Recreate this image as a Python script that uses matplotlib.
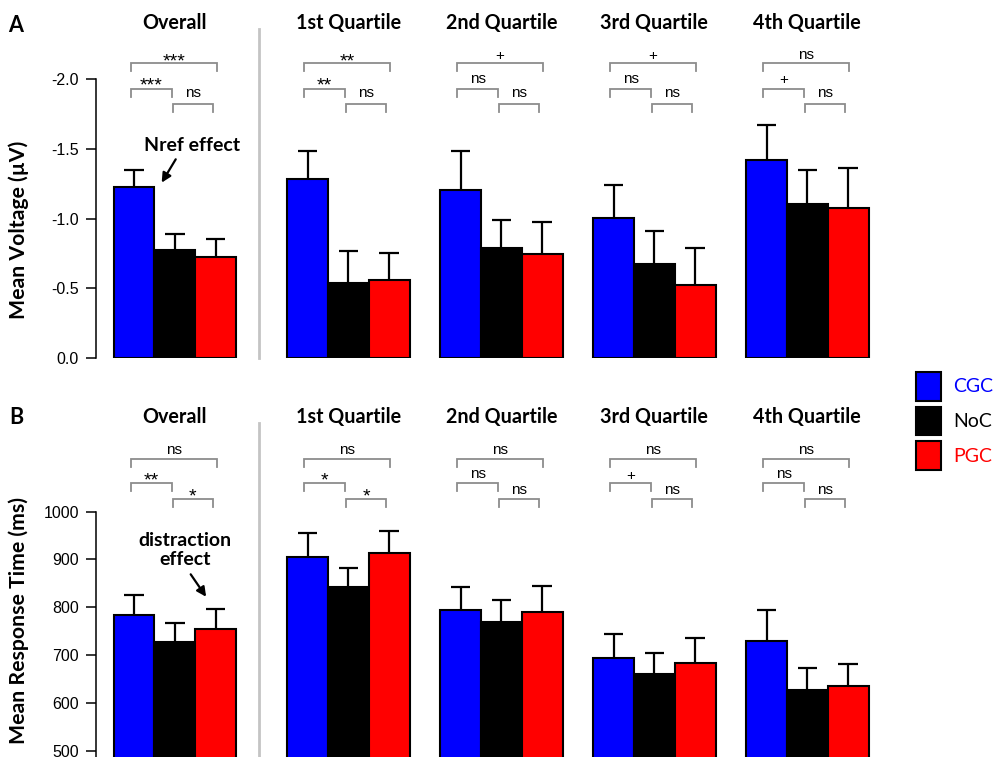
import matplotlib
matplotlib.use('Agg')
import matplotlib.pyplot as plt
import numpy as np
from matplotlib.patches import Patch

plt.rcParams['axes.unicode_minus'] = False

# ---------------- data ----------------
groups = ['Overall', '1st Quartile', '2nd Quartile', '3rd Quartile', '4th Quartile']
conditions = ['CGC', 'NoC', 'PGC']
cond_colors = ['#0000ff', '#000000', '#ff0000']

# Panel A: mean voltage (µV); rows = groups, columns = CGC, NoC, PGC
volt_mean = [[-1.225, -0.774, -0.723],
             [-1.282, -0.537, -0.559],
             [-1.203, -0.788, -0.745],
             [-1.003, -0.673, -0.523],
             [-1.418, -1.103, -1.074]]
volt_err = [[0.122, 0.114, 0.129],
            [0.201, 0.229, 0.193],
            [0.280, 0.201, 0.229],
            [0.236, 0.237, 0.265],
            [0.251, 0.244, 0.287]]

# Panel B: mean response time (ms)
rt_mean = [[783, 727, 754],
           [906, 842, 914],
           [795, 769, 790],
           [694, 660, 683],
           [730, 628, 636]]
rt_err = [[43, 40, 42],
          [50, 40, 45],
          [47, 46, 55],
          [50, 45, 53],
          [65, 44, 45]]

# significance labels per group: (CGC vs PGC, CGC vs NoC, NoC vs PGC)
sig_A = [('***', '***', 'ns'), ('**', '**', 'ns'), ('+', 'ns', 'ns'),
         ('+', 'ns', 'ns'), ('ns', '+', 'ns')]
sig_B = [('ns', '**', '*'), ('ns', '*', '*'), ('ns', 'ns', 'ns'),
         ('ns', '+', 'ns'), ('ns', 'ns', 'ns')]

volt_ticks = [-2.0, -1.5, -1.0, -0.5, 0.0]
volt_ticklabels = ['-2.0', '-1.5', '-1.0', '-0.5', '0.0']
rt_ticks = [500, 600, 700, 800, 900, 1000]
rt_ticklabels = ['500', '600', '700', '800', '900', '1000']

# ---------------- layout ----------------
W, H = 994, 757
fig = plt.figure(figsize=(W / 100, H / 100), dpi=100)
TITLE_FONT = ['Lato', 'DejaVu Sans']
TICK_FONT = ['Liberation Sans', 'DejaVu Sans']

group_offsets = np.array([0.0, 4.25, 8.0, 11.75, 15.5])
xlim = (-0.441, 18.78)
ax_left, ax_w = 95.7 / W, (880 - 95.7) / W
axA = fig.add_axes([ax_left, 1 - 358.3 / H, ax_w, (358.3 - 79) / H])
axB = fig.add_axes([ax_left, 0.0, ax_w, (H - 511.7) / H])

panels = [
    dict(ax=axA, mean=np.array(volt_mean), err=np.array(volt_err), sig=sig_A,
         ylim=(0.0, -2.0), bounds=(-2.0, 0.0), ticks=volt_ticks, tl=volt_ticklabels,
         ylabel='Mean Voltage (µV)', ylab_y=0.46,
         br=[(-2.111, -2.054, -2.173), (-1.927, -1.870, -2.000), (-1.819, -1.762, -1.900)],
         title_y=-2.359, sep=(0.0, -2.359), letter='A', letter_y=25),
    dict(ax=axB, mean=np.array(rt_mean), err=np.array(rt_err), sig=sig_B,
         ylim=(486.8, 1000), bounds=(486.8, 1000), ticks=rt_ticks, tl=rt_ticklabels,
         ylabel='Mean Response Time (ms)', ylab_y=0.558,
         br=[(1109.6, 1093.5, 1129), (1059.0, 1043.5, 1078), (1026.6, 1010.0, 1046)],
         title_y=1185, sep=(486.8, 1185), letter='B', letter_y=418),
]

# font size and vertical offset (points) from visual centre to baseline for bracket labels
def label_style(s):
    if '*' in s:
        fs = 14
        return fs, -0.58 * fs
    fs = 11
    if '+' in s:
        return fs, -0.35 * fs
    return fs, -0.26 * fs

bracket_color = '#8c8c8c'

for p in panels:
    ax = p['ax']
    mean, err = p['mean'], p['err']
    for j, (cond, col) in enumerate(zip(conditions, cond_colors)):
        x = group_offsets + j + 0.5
        ax.bar(x, mean[:, j], width=1.0, color=col, edgecolor='black',
               linewidth=1.5, zorder=3, label=cond)
        tip = mean[:, j] + np.sign(mean[:, j]) * err[:, j]
        ax.vlines(x, mean[:, j], tip, color='black', linewidth=1.6, zorder=2)
        ax.hlines(tip, x - 0.24, x + 0.24, color='black', linewidth=1.6, zorder=2)

    ax.set_xlim(*xlim)
    ax.set_ylim(*p['ylim'])
    ax.set_xticks([])
    ax.set_yticks(p['ticks'])
    ax.set_yticklabels(p['tl'], fontfamily=TICK_FONT, fontsize=11.5)
    ax.tick_params(axis='y', direction='out', length=7.5, width=1.1, pad=4.5)
    for s in ['top', 'right', 'bottom']:
        ax.spines[s].set_visible(False)
    ax.spines['left'].set_linewidth(1.1)
    ax.spines['left'].set_bounds(*p['bounds'])
    ax.set_ylabel(p['ylabel'], fontfamily=TITLE_FONT, fontweight='bold', fontsize=15.3)
    ax.yaxis.set_label_coords((29 - 95.7) / (880 - 95.7), p['ylab_y'])

    # separator line
    sep_x = group_offsets[1] - 0.7
    ax.plot([sep_x, sep_x], list(p['sep']), color='#c4c4c4', linewidth=2.0,
            clip_on=False, zorder=1)

    for g, name in enumerate(groups):
        off = group_offsets[g]
        c = off + np.array([0.5, 1.5, 2.5])
        ax.text(off + 1.5, p['title_y'], name, ha='center', va='baseline',
                fontfamily=TITLE_FONT, fontweight='bold', fontsize=14.2, clip_on=False)
        spans = [(c[0] - 0.08, c[2] + 0.02), (c[0] - 0.08, c[1] - 0.08), (c[1] - 0.05, c[2] - 0.07)]
        for (x1, x2), (yb, yl, ylab), lab in zip(spans, p['br'], p['sig'][g]):
            ax.plot([x1, x1, x2, x2], [yl, yb, yb, yl], color=bracket_color,
                    linewidth=1.3, clip_on=False, solid_joinstyle='miter')
            fs, dy = label_style(lab)
            ax.annotate(lab, xy=((x1 + x2) / 2, ylab), xytext=(0, dy),
                        textcoords='offset points', ha='center', va='baseline',
                        fontsize=fs, fontfamily=TICK_FONT, annotation_clip=False)

    fig.text(16 / W, 1 - p['letter_y'] / H, p['letter'], ha='center', va='center',
             fontfamily=TITLE_FONT, fontweight='bold', fontsize=15.5)

# annotations
axA.annotate('', xy=(1.176, -1.258), xytext=(1.52, -1.425),
             arrowprops=dict(arrowstyle='-|>', color='black', lw=1.6, mutation_scale=14,
                             shrinkA=0, shrinkB=0), annotation_clip=False)
axA.text(1.93, -1.521, 'Nref effect', ha='center', va='center',
         fontfamily=TITLE_FONT, fontweight='bold', fontsize=14)
axB.annotate('', xy=(2.265, 822), xytext=(1.887, 869),
             arrowprops=dict(arrowstyle='-|>', color='black', lw=1.6, mutation_scale=14,
                             shrinkA=0, shrinkB=0), annotation_clip=False)
axB.text(1.757, 920.5, 'distraction\neffect', ha='center', va='center',
         fontfamily=TITLE_FONT, fontweight='bold', fontsize=14, linespacing=1.15)

# legend
handles = [Patch(facecolor=c, edgecolor='black', linewidth=1.5) for c in cond_colors]
leg = fig.legend(handles, conditions, loc='upper left', bbox_to_anchor=(912 / W, 1 - 368 / H),
                 frameon=False, prop={'family': TITLE_FONT, 'size': 14},
                 handlelength=1.3, handleheight=1.9, handletextpad=0.6, labelspacing=0.3,
                 borderpad=0.2, borderaxespad=0)
for t, c in zip(leg.get_texts(), cond_colors):
    t.set_color(c)

fig.savefig('out.png', dpi=100)
